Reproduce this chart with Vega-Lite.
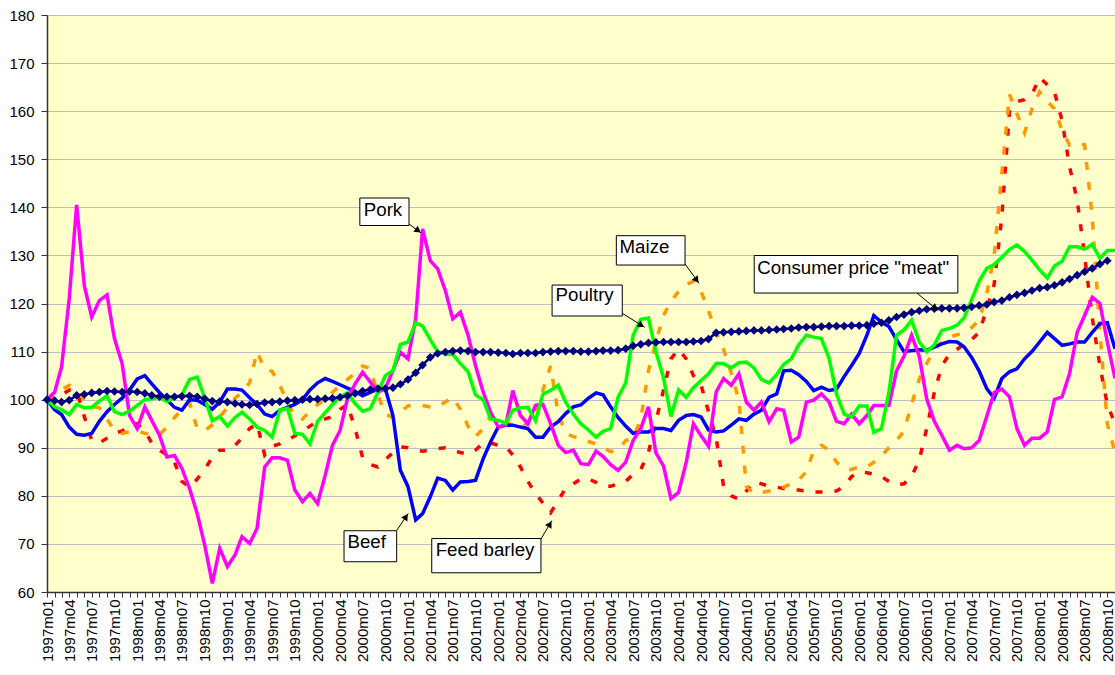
{
  "$schema": "https://vega.github.io/schema/vega-lite/v6.json",
  "width": 1068,
  "height": 577,
  "autosize": {"type": "none"},
  "padding": {"left": 47, "top": 15, "right": 0, "bottom": 83},
  "background": "white",
  "config": {
    "font": "Liberation Sans",
    "view": {"fill": "#FFFFCC", "stroke": "#808080", "strokeWidth": 1},
    "axis": {"labelFont": "Liberation Sans", "labelFontSize": 15, "labelColor": "black", "domainColor": "#333333", "tickColor": "#333333", "domainWidth": 1.5, "tickWidth": 1}
  },
  "datasets": {
    "prices": [
      {"m":"1997-01-01","Beef":100,"Pork":100,"Poultry":100,"Maize":100,"Barley":100,"Consumer":100},
      {"m":"1997-02-01","Beef":97.9,"Pork":101.6,"Poultry":98.5,"Maize":101,"Barley":100.5,"Consumer":99.8},
      {"m":"1997-03-01","Beef":96.9,"Pork":106.8,"Poultry":97.9,"Maize":102,"Barley":101,"Consumer":99.5},
      {"m":"1997-04-01","Beef":94.3,"Pork":121,"Poultry":96.9,"Maize":103,"Barley":102,"Consumer":99.9},
      {"m":"1997-05-01","Beef":92.8,"Pork":140.5,"Poultry":99,"Maize":102,"Barley":102,"Consumer":100.9},
      {"m":"1997-06-01","Beef":92.6,"Pork":123.7,"Poultry":98.3,"Maize":100,"Barley":96.5,"Consumer":101.1},
      {"m":"1997-07-01","Beef":93,"Pork":117.2,"Poultry":98.4,"Maize":98.5,"Barley":91.5,"Consumer":101.4},
      {"m":"1997-08-01","Beef":95.5,"Pork":120.6,"Poultry":99.7,"Maize":98.3,"Barley":91,"Consumer":101.6},
      {"m":"1997-09-01","Beef":97.5,"Pork":121.8,"Poultry":100.8,"Maize":96,"Barley":92,"Consumer":101.8},
      {"m":"1997-10-01","Beef":99,"Pork":112.7,"Poultry":97.5,"Maize":93.5,"Barley":93,"Consumer":101.7},
      {"m":"1997-11-01","Beef":100.3,"Pork":107.5,"Poultry":96.9,"Maize":93,"Barley":93.5,"Consumer":101.6},
      {"m":"1997-12-01","Beef":102,"Pork":96.7,"Poultry":97.6,"Maize":93.3,"Barley":94.5,"Consumer":101.7},
      {"m":"1998-01-01","Beef":104.3,"Pork":94,"Poultry":98.8,"Maize":93.5,"Barley":95,"Consumer":101.6},
      {"m":"1998-02-01","Beef":105,"Pork":98.5,"Poultry":100,"Maize":93,"Barley":93.5,"Consumer":101.3},
      {"m":"1998-03-01","Beef":103.3,"Pork":95.7,"Poultry":100.2,"Maize":92.8,"Barley":91,"Consumer":100.9},
      {"m":"1998-04-01","Beef":101.5,"Pork":92.6,"Poultry":100.5,"Maize":92.7,"Barley":89.5,"Consumer":100.6},
      {"m":"1998-05-01","Beef":100,"Pork":88.1,"Poultry":99.6,"Maize":94.3,"Barley":88.5,"Consumer":100.6},
      {"m":"1998-06-01","Beef":98.4,"Pork":88.4,"Poultry":100.4,"Maize":96.3,"Barley":87,"Consumer":100.6},
      {"m":"1998-07-01","Beef":97.8,"Pork":85.7,"Poultry":101,"Maize":98,"Barley":83,"Consumer":100.7},
      {"m":"1998-08-01","Beef":100,"Pork":81.5,"Poultry":104.2,"Maize":99.3,"Barley":81.8,"Consumer":100.8},
      {"m":"1998-09-01","Beef":99.9,"Pork":76.3,"Poultry":104.7,"Maize":94,"Barley":83.5,"Consumer":100.6},
      {"m":"1998-10-01","Beef":99,"Pork":69.8,"Poultry":100.4,"Maize":93.5,"Barley":85.5,"Consumer":100.2},
      {"m":"1998-11-01","Beef":98,"Pork":61.8,"Poultry":95.6,"Maize":94.8,"Barley":88,"Consumer":99.7},
      {"m":"1998-12-01","Beef":99.5,"Pork":69.1,"Poultry":96.5,"Maize":96.4,"Barley":89.5,"Consumer":99.6},
      {"m":"1999-01-01","Beef":102.2,"Pork":65.3,"Poultry":94.5,"Maize":98.3,"Barley":89.5,"Consumer":99.5},
      {"m":"1999-02-01","Beef":102.2,"Pork":67.7,"Poultry":96.3,"Maize":100.3,"Barley":90.5,"Consumer":99.2},
      {"m":"1999-03-01","Beef":102,"Pork":71.5,"Poultry":97.4,"Maize":101.5,"Barley":92,"Consumer":99},
      {"m":"1999-04-01","Beef":100.4,"Pork":70.1,"Poultry":96,"Maize":103.5,"Barley":94,"Consumer":98.9},
      {"m":"1999-05-01","Beef":99,"Pork":73.2,"Poultry":94.3,"Maize":110,"Barley":95,"Consumer":99.1},
      {"m":"1999-06-01","Beef":97,"Pork":86,"Poultry":93.6,"Maize":106.3,"Barley":88.5,"Consumer":99.4},
      {"m":"1999-07-01","Beef":96.5,"Pork":87.9,"Poultry":92.2,"Maize":105.9,"Barley":90.3,"Consumer":99.5},
      {"m":"1999-08-01","Beef":97.8,"Pork":87.9,"Poultry":97.8,"Maize":103,"Barley":90.8,"Consumer":99.6},
      {"m":"1999-09-01","Beef":98.4,"Pork":87.4,"Poultry":98.2,"Maize":99.5,"Barley":91.5,"Consumer":99.8},
      {"m":"1999-10-01","Beef":99,"Pork":81.2,"Poultry":93,"Maize":96.5,"Barley":92.5,"Consumer":99.9},
      {"m":"1999-11-01","Beef":100,"Pork":78.8,"Poultry":92.8,"Maize":96,"Barley":93.5,"Consumer":100},
      {"m":"1999-12-01","Beef":102,"Pork":80.5,"Poultry":90.8,"Maize":97.5,"Barley":94.5,"Consumer":100.1},
      {"m":"2000-01-01","Beef":103.5,"Pork":78.4,"Poultry":95.5,"Maize":99,"Barley":95.5,"Consumer":100.1},
      {"m":"2000-02-01","Beef":104.4,"Pork":84.3,"Poultry":97.3,"Maize":100,"Barley":96,"Consumer":100.2},
      {"m":"2000-03-01","Beef":103.8,"Pork":90.5,"Poultry":99,"Maize":101.5,"Barley":96.5,"Consumer":100.3},
      {"m":"2000-04-01","Beef":103.1,"Pork":93.6,"Poultry":100.6,"Maize":103,"Barley":98,"Consumer":100.5},
      {"m":"2000-05-01","Beef":102.4,"Pork":100.2,"Poultry":101.4,"Maize":104.2,"Barley":99,"Consumer":100.8},
      {"m":"2000-06-01","Beef":101.7,"Pork":103.3,"Poultry":99.2,"Maize":105.5,"Barley":94,"Consumer":101.3},
      {"m":"2000-07-01","Beef":100.8,"Pork":105.7,"Poultry":97.6,"Maize":107,"Barley":88,"Consumer":101.8},
      {"m":"2000-08-01","Beef":101.5,"Pork":103.7,"Poultry":98.1,"Maize":106.5,"Barley":86.5,"Consumer":102.1},
      {"m":"2000-09-01","Beef":102.2,"Pork":101.6,"Poultry":101.5,"Maize":101,"Barley":86,"Consumer":102.3},
      {"m":"2000-10-01","Beef":102.3,"Pork":102.3,"Poultry":105,"Maize":97,"Barley":87.5,"Consumer":102.3},
      {"m":"2000-11-01","Beef":96.7,"Pork":106.1,"Poultry":106,"Maize":96.3,"Barley":89,"Consumer":102.5},
      {"m":"2000-12-01","Beef":85.3,"Pork":109.9,"Poultry":111.5,"Maize":97.5,"Barley":90.2,"Consumer":103.2},
      {"m":"2001-01-01","Beef":81.9,"Pork":108.5,"Poultry":112,"Maize":98.7,"Barley":90,"Consumer":104.2},
      {"m":"2001-02-01","Beef":75,"Pork":116.8,"Poultry":116,"Maize":99,"Barley":89.5,"Consumer":105.6},
      {"m":"2001-03-01","Beef":76.3,"Pork":135.5,"Poultry":115.3,"Maize":98.8,"Barley":89.3,"Consumer":107.2},
      {"m":"2001-04-01","Beef":79.8,"Pork":128.9,"Poultry":112.5,"Maize":98.5,"Barley":89.5,"Consumer":108.8},
      {"m":"2001-05-01","Beef":83.7,"Pork":127.2,"Poultry":110,"Maize":98.5,"Barley":89.8,"Consumer":109.6},
      {"m":"2001-06-01","Beef":83.2,"Pork":122.7,"Poultry":109.5,"Maize":99.5,"Barley":90,"Consumer":109.9},
      {"m":"2001-07-01","Beef":81.2,"Pork":116.8,"Poultry":109.4,"Maize":100.5,"Barley":89.5,"Consumer":110.1},
      {"m":"2001-08-01","Beef":82.9,"Pork":118.2,"Poultry":107.5,"Maize":98,"Barley":89,"Consumer":110.2},
      {"m":"2001-09-01","Beef":83,"Pork":113.4,"Poultry":105.8,"Maize":94.5,"Barley":88.7,"Consumer":110.1},
      {"m":"2001-10-01","Beef":83.2,"Pork":107.1,"Poultry":101,"Maize":92.3,"Barley":89.5,"Consumer":109.9},
      {"m":"2001-11-01","Beef":87.7,"Pork":101.6,"Poultry":100,"Maize":94,"Barley":91,"Consumer":109.9},
      {"m":"2001-12-01","Beef":91.2,"Pork":97.4,"Poultry":96,"Maize":96.6,"Barley":91,"Consumer":109.9},
      {"m":"2002-01-01","Beef":94.3,"Pork":94.3,"Poultry":95.7,"Maize":96,"Barley":90.5,"Consumer":109.8},
      {"m":"2002-02-01","Beef":94.7,"Pork":94.7,"Poultry":95.1,"Maize":95.3,"Barley":90.2,"Consumer":109.7},
      {"m":"2002-03-01","Beef":94.7,"Pork":101.9,"Poultry":97.8,"Maize":94.6,"Barley":88.5,"Consumer":109.5},
      {"m":"2002-04-01","Beef":94.3,"Pork":96.7,"Poultry":98.3,"Maize":94.3,"Barley":86,"Consumer":109.7},
      {"m":"2002-05-01","Beef":94,"Pork":95,"Poultry":98.4,"Maize":95,"Barley":83,"Consumer":109.7},
      {"m":"2002-06-01","Beef":92.2,"Pork":98.8,"Poultry":95.6,"Maize":97.3,"Barley":80.5,"Consumer":109.7},
      {"m":"2002-07-01","Beef":92.2,"Pork":99,"Poultry":101.2,"Maize":102,"Barley":78.5,"Consumer":109.9},
      {"m":"2002-08-01","Beef":94.3,"Pork":95,"Poultry":101.9,"Maize":107,"Barley":76.5,"Consumer":110},
      {"m":"2002-09-01","Beef":95.4,"Pork":90.5,"Poultry":103,"Maize":97,"Barley":79,"Consumer":110.1},
      {"m":"2002-10-01","Beef":97.1,"Pork":89,"Poultry":99.5,"Maize":93,"Barley":81.6,"Consumer":110.1},
      {"m":"2002-11-01","Beef":98.5,"Pork":89.5,"Poultry":97,"Maize":92.3,"Barley":82.5,"Consumer":110.1},
      {"m":"2002-12-01","Beef":98.9,"Pork":86.7,"Poultry":95,"Maize":92,"Barley":83.5,"Consumer":110},
      {"m":"2003-01-01","Beef":100.3,"Pork":86.5,"Poultry":93.7,"Maize":91.3,"Barley":83.5,"Consumer":110},
      {"m":"2003-02-01","Beef":101.4,"Pork":89.3,"Poultry":92.2,"Maize":90.8,"Barley":82.8,"Consumer":110.1},
      {"m":"2003-03-01","Beef":101,"Pork":88.2,"Poultry":93.4,"Maize":90,"Barley":82,"Consumer":110.2},
      {"m":"2003-04-01","Beef":98.5,"Pork":86.5,"Poultry":94,"Maize":89.2,"Barley":82,"Consumer":110.2},
      {"m":"2003-05-01","Beef":96.3,"Pork":85.3,"Poultry":100.5,"Maize":89.5,"Barley":82.5,"Consumer":110.3},
      {"m":"2003-06-01","Beef":94.5,"Pork":87,"Poultry":103.5,"Maize":91.5,"Barley":83,"Consumer":110.6},
      {"m":"2003-07-01","Beef":93,"Pork":91.5,"Poultry":113.4,"Maize":92,"Barley":84.5,"Consumer":111.2},
      {"m":"2003-08-01","Beef":93.3,"Pork":94,"Poultry":116.7,"Maize":96,"Barley":85.5,"Consumer":111.5},
      {"m":"2003-09-01","Beef":93.3,"Pork":98.5,"Poultry":117,"Maize":106,"Barley":89,"Consumer":111.8},
      {"m":"2003-10-01","Beef":94,"Pork":89,"Poultry":110,"Maize":112,"Barley":95.5,"Consumer":111.9},
      {"m":"2003-11-01","Beef":94,"Pork":86.2,"Poultry":104.5,"Maize":117.5,"Barley":102,"Consumer":112},
      {"m":"2003-12-01","Beef":93.6,"Pork":79.4,"Poultry":96.5,"Maize":120.5,"Barley":108.5,"Consumer":112},
      {"m":"2004-01-01","Beef":95.7,"Pork":80.7,"Poultry":102,"Maize":122.5,"Barley":110.5,"Consumer":112},
      {"m":"2004-02-01","Beef":96.7,"Pork":87,"Poultry":100.5,"Maize":124,"Barley":108.5,"Consumer":112},
      {"m":"2004-03-01","Beef":96.9,"Pork":95,"Poultry":102.5,"Maize":124.6,"Barley":105,"Consumer":112.1},
      {"m":"2004-04-01","Beef":96.4,"Pork":92.5,"Poultry":104,"Maize":122.5,"Barley":103,"Consumer":112.2},
      {"m":"2004-05-01","Beef":93.7,"Pork":90.3,"Poultry":105.4,"Maize":118.5,"Barley":97.5,"Consumer":112.6},
      {"m":"2004-06-01","Beef":93.3,"Pork":101.6,"Poultry":107.5,"Maize":114,"Barley":92,"Consumer":113.9},
      {"m":"2004-07-01","Beef":93.5,"Pork":104.4,"Poultry":107.5,"Maize":110.5,"Barley":82,"Consumer":114},
      {"m":"2004-08-01","Beef":94.7,"Pork":103,"Poultry":106.6,"Maize":105.5,"Barley":80,"Consumer":114.1},
      {"m":"2004-09-01","Beef":96,"Pork":105.4,"Poultry":107.7,"Maize":100,"Barley":79.3,"Consumer":114.2},
      {"m":"2004-10-01","Beef":95.7,"Pork":99.5,"Poultry":107.8,"Maize":82,"Barley":81,"Consumer":114.3},
      {"m":"2004-11-01","Beef":97,"Pork":97.8,"Poultry":106.6,"Maize":80.5,"Barley":83,"Consumer":114.4},
      {"m":"2004-12-01","Beef":97.8,"Pork":99.5,"Poultry":104.2,"Maize":80.7,"Barley":82.5,"Consumer":114.4},
      {"m":"2005-01-01","Beef":100.5,"Pork":95.4,"Poultry":103.5,"Maize":81,"Barley":82,"Consumer":114.5},
      {"m":"2005-02-01","Beef":101.2,"Pork":98.1,"Poultry":105.2,"Maize":81.4,"Barley":81.8,"Consumer":114.6},
      {"m":"2005-03-01","Beef":106,"Pork":97.8,"Poultry":107.3,"Maize":81.8,"Barley":81.5,"Consumer":114.7},
      {"m":"2005-04-01","Beef":106.1,"Pork":91.2,"Poultry":108.5,"Maize":82.5,"Barley":81.3,"Consumer":114.8},
      {"m":"2005-05-01","Beef":105.2,"Pork":92.2,"Poultry":111.4,"Maize":83.3,"Barley":81.2,"Consumer":115},
      {"m":"2005-06-01","Beef":103.8,"Pork":99.5,"Poultry":113.4,"Maize":85,"Barley":81,"Consumer":115.1},
      {"m":"2005-07-01","Beef":101.9,"Pork":99.9,"Poultry":113,"Maize":89.5,"Barley":80.8,"Consumer":115.1},
      {"m":"2005-08-01","Beef":102.6,"Pork":101.2,"Poultry":112.7,"Maize":90.5,"Barley":80.8,"Consumer":115.2},
      {"m":"2005-09-01","Beef":101.9,"Pork":99.5,"Poultry":108.6,"Maize":89.5,"Barley":81,"Consumer":115.3},
      {"m":"2005-10-01","Beef":102.2,"Pork":95.5,"Poultry":101.2,"Maize":87,"Barley":81,"Consumer":115.3},
      {"m":"2005-11-01","Beef":104.8,"Pork":95,"Poultry":97,"Maize":85.5,"Barley":82,"Consumer":115.3},
      {"m":"2005-12-01","Beef":107.1,"Pork":97,"Poultry":96.4,"Maize":85.5,"Barley":84,"Consumer":115.4},
      {"m":"2006-01-01","Beef":109.6,"Pork":95,"Poultry":98.7,"Maize":86,"Barley":85,"Consumer":115.4},
      {"m":"2006-02-01","Beef":113.4,"Pork":96.7,"Poultry":98.7,"Maize":86,"Barley":84.8,"Consumer":115.5},
      {"m":"2006-03-01","Beef":117.5,"Pork":98.8,"Poultry":93.2,"Maize":87,"Barley":84.5,"Consumer":115.8},
      {"m":"2006-04-01","Beef":116.1,"Pork":98.8,"Poultry":94,"Maize":88.3,"Barley":84,"Consumer":116},
      {"m":"2006-05-01","Beef":115.2,"Pork":98.8,"Poultry":101.5,"Maize":90,"Barley":83,"Consumer":116.5},
      {"m":"2006-06-01","Beef":112.5,"Pork":106,"Poultry":113.4,"Maize":91.5,"Barley":82.3,"Consumer":117.2},
      {"m":"2006-07-01","Beef":110,"Pork":109,"Poultry":114.5,"Maize":93.5,"Barley":82.5,"Consumer":117.7},
      {"m":"2006-08-01","Beef":110.2,"Pork":113.4,"Poultry":116.5,"Maize":99,"Barley":84,"Consumer":118.2},
      {"m":"2006-09-01","Beef":110.4,"Pork":109,"Poultry":112,"Maize":104.3,"Barley":87.5,"Consumer":118.5},
      {"m":"2006-10-01","Beef":110.3,"Pork":100.2,"Poultry":110,"Maize":107.5,"Barley":94,"Consumer":118.8},
      {"m":"2006-11-01","Beef":110.9,"Pork":95.5,"Poultry":111.4,"Maize":110.5,"Barley":101.5,"Consumer":118.9},
      {"m":"2006-12-01","Beef":111.6,"Pork":92.6,"Poultry":114.4,"Maize":112,"Barley":107,"Consumer":119},
      {"m":"2007-01-01","Beef":112.1,"Pork":89.5,"Poultry":114.8,"Maize":113,"Barley":109.5,"Consumer":119},
      {"m":"2007-02-01","Beef":112,"Pork":90.5,"Poultry":115.5,"Maize":113.5,"Barley":110.5,"Consumer":119},
      {"m":"2007-03-01","Beef":111,"Pork":89.8,"Poultry":117,"Maize":114,"Barley":111.5,"Consumer":119.1},
      {"m":"2007-04-01","Beef":108.8,"Pork":90,"Poultry":120.8,"Maize":115,"Barley":112.5,"Consumer":119.3},
      {"m":"2007-05-01","Beef":106,"Pork":91.5,"Poultry":124.6,"Maize":116.5,"Barley":114,"Consumer":119.6},
      {"m":"2007-06-01","Beef":102.3,"Pork":96.5,"Poultry":127.3,"Maize":122,"Barley":118.8,"Consumer":119.8},
      {"m":"2007-07-01","Beef":100.3,"Pork":101.5,"Poultry":128.1,"Maize":130,"Barley":124,"Consumer":120.3},
      {"m":"2007-08-01","Beef":104.4,"Pork":102.2,"Poultry":129.6,"Maize":147,"Barley":138,"Consumer":120.6},
      {"m":"2007-09-01","Beef":105.8,"Pork":100.6,"Poultry":131.2,"Maize":163.5,"Barley":160,"Consumer":121.3},
      {"m":"2007-10-01","Beef":106.4,"Pork":94,"Poultry":132.2,"Maize":159.5,"Barley":162,"Consumer":121.8},
      {"m":"2007-11-01","Beef":108.5,"Pork":90.5,"Poultry":130.8,"Maize":155.5,"Barley":162.4,"Consumer":122.2},
      {"m":"2007-12-01","Beef":110,"Pork":92,"Poultry":129,"Maize":160.5,"Barley":163.5,"Consumer":122.7},
      {"m":"2008-01-01","Beef":112,"Pork":92,"Poultry":127,"Maize":164,"Barley":167,"Consumer":123.2},
      {"m":"2008-02-01","Beef":114,"Pork":93.3,"Poultry":125.3,"Maize":162,"Barley":165.5,"Consumer":123.4},
      {"m":"2008-03-01","Beef":112.7,"Pork":100,"Poultry":127.8,"Maize":160.5,"Barley":164,"Consumer":123.8},
      {"m":"2008-04-01","Beef":111.3,"Pork":100.6,"Poultry":128.8,"Maize":156,"Barley":158,"Consumer":124.4},
      {"m":"2008-05-01","Beef":111.6,"Pork":105.4,"Poultry":131.8,"Maize":153,"Barley":148.5,"Consumer":125.1},
      {"m":"2008-06-01","Beef":112,"Pork":114,"Poultry":131.8,"Maize":153.5,"Barley":141.5,"Consumer":125.9},
      {"m":"2008-07-01","Beef":112,"Pork":117.5,"Poultry":131.3,"Maize":153,"Barley":130,"Consumer":126.6},
      {"m":"2008-08-01","Beef":114,"Pork":121.3,"Poultry":132.3,"Maize":138,"Barley":117,"Consumer":127.3},
      {"m":"2008-09-01","Beef":115.8,"Pork":120,"Poultry":129.4,"Maize":114,"Barley":107,"Consumer":128.2},
      {"m":"2008-10-01","Beef":116,"Pork":112,"Poultry":131,"Maize":95,"Barley":99,"Consumer":128.9},
      {"m":"2008-11-01","Beef":110.6,"Pork":104.4,"Poultry":131,"Maize":89,"Barley":95,"Consumer":null}
    ],
    "notes": [
      {"label":"Pork","bx1":"2000-06-20","bx2":"2001-01-05","by1":141.94,"by2":136.22,"tx":"2000-07-06","ty":139.38,"ax1":"2001-01-05","ay1":136.53,"ax2":"2001-02-23","ay2":134.66,"hx":"2001-02-11","hy":135.15,"hd":125.8},
      {"label":"Beef","bx1":"2000-04-17","bx2":"2000-11-16","by1":72.74,"by2":66.29,"tx":"2000-05-01","ty":70.49,"ax1":"2000-11-16","ay1":72.78,"ax2":"2001-01-02","ay2":76.36,"hx":"2000-12-24","hy":75.67,"hd":34},
      {"label":"Feed barley","bx1":"2001-04-07","bx2":"2002-06-23","by1":71.12,"by2":64.0,"tx":"2001-04-23","ty":68.8,"ax1":"2002-06-23","ay1":71.01,"ax2":"2002-08-06","ay2":74.86,"hx":"2002-07-29","hy":74.13,"hd":30},
      {"label":"Maize","bx1":"2003-04-24","bx2":"2004-01-27","by1":134.1,"by2":128.0,"tx":"2003-05-07","ty":131.81,"ax1":"2004-01-27","ay1":128.21,"ax2":"2004-03-24","ay2":124.2,"hx":"2004-03-14","hy":124.86,"hd":143.5},
      {"label":"Poultry","bx1":"2002-08-07","bx2":"2003-05-18","by1":123.84,"by2":117.4,"tx":"2002-08-21","ty":121.76,"ax1":"2003-05-18","ay1":117.96,"ax2":"2003-08-17","ay2":115.05,"hx":"2003-08-03","hy":115.48,"hd":122},
      {"label":"Consumer price \"meat\"","bx1":"2004-11-02","bx2":"2007-02-04","by1":129.98,"by2":122.18,"tx":"2004-11-14","ty":127.48,"ax1":"2006-08-21","ay1":122.24,"ax2":"2006-11-17","ay2":118.5,"hx":"2006-11-04","hy":119.04,"hd":129.8}
    ]
  },
  "layer": [
    {
      "data": {"name": "prices"},
      "mark": {"type": "line", "color": "#FF0000", "strokeWidth": 3.5, "strokeDash": [7, 12], "strokeCap": "butt"},
      "encoding": {
        "x": {"field": "m", "type": "temporal", "title": null,
          "scale": {"type": "utc", "domain": [{"year": 1997, "month": 1, "date": 1, "utc": true}, {"year": 2008, "month": 11, "date": 1, "utc": true}]},
          "axis": {"title": null, "grid": false, "tickCount": {"interval": "month", "step": 1},
            "labelExpr": "utcmonth(datum.value) % 3 == 0 ? utcFormat(datum.value, '%Ym%m') : ''",
            "labelAngle": -90, "labelPadding": 2, "tickSize": 5, "labelOverlap": false, "labelFlush": false, "labelBound": false}},
        "y": {"field": "Barley", "type": "quantitative", "title": null,
          "scale": {"domain": [60, 180], "nice": false, "zero": false},
          "axis": {"title": null, "values": [60, 70, 80, 90, 100, 110, 120, 130, 140, 150, 160, 170, 180],
            "grid": true, "gridColor": "#BFBFBF", "gridWidth": 1, "tickSize": 6, "labelPadding": 7}}
      }
    },
    {
      "data": {"name": "prices"},
      "mark": {"type": "line", "color": "#FF9900", "strokeWidth": 3.5, "strokeDash": [8, 12], "strokeCap": "butt"},
      "encoding": {
        "x": {"field": "m", "type": "temporal", "scale": {"type": "utc"}, "title": null},
        "y": {"field": "Maize", "type": "quantitative", "title": null}
      }
    },
    {
      "data": {"name": "prices"},
      "mark": {"type": "line", "color": "#0000FF", "strokeWidth": 3.5},
      "encoding": {
        "x": {"field": "m", "type": "temporal", "scale": {"type": "utc"}, "title": null},
        "y": {"field": "Beef", "type": "quantitative", "title": null}
      }
    },
    {
      "data": {"name": "prices"},
      "mark": {"type": "line", "color": "#FF00FF", "strokeWidth": 3.5},
      "encoding": {
        "x": {"field": "m", "type": "temporal", "scale": {"type": "utc"}, "title": null},
        "y": {"field": "Pork", "type": "quantitative", "title": null}
      }
    },
    {
      "data": {"name": "prices"},
      "mark": {"type": "line", "color": "#00FF00", "strokeWidth": 3.5},
      "encoding": {
        "x": {"field": "m", "type": "temporal", "scale": {"type": "utc"}, "title": null},
        "y": {"field": "Poultry", "type": "quantitative", "title": null}
      }
    },
    {
      "data": {"name": "prices"},
      "mark": {"type": "line", "color": "#000080", "strokeWidth": 2.5,
        "point": {"shape": "diamond", "size": 75, "filled": true, "color": "#000080", "opacity": 1}},
      "encoding": {
        "x": {"field": "m", "type": "temporal", "scale": {"type": "utc"}, "title": null},
        "y": {"field": "Consumer", "type": "quantitative", "title": null}
      }
    },
    {
      "data": {"name": "notes"},
      "mark": {"type": "rule", "color": "black", "strokeWidth": 1},
      "encoding": {
        "x": {"field": "ax1", "type": "temporal", "scale": {"type": "utc"}, "title": null},
        "x2": {"field": "ax2"},
        "y": {"field": "ay1", "type": "quantitative", "title": null},
        "y2": {"field": "ay2"}
      }
    },
    {
      "data": {"name": "notes"},
      "mark": {"type": "point", "shape": "triangle-up", "filled": true, "color": "black", "size": 55, "opacity": 1},
      "encoding": {
        "x": {"field": "hx", "type": "temporal", "scale": {"type": "utc"}, "title": null},
        "y": {"field": "hy", "type": "quantitative", "title": null},
        "angle": {"field": "hd", "type": "quantitative", "scale": null}
      }
    },
    {
      "data": {"name": "notes"},
      "mark": {"type": "rect", "fill": "white", "stroke": "black", "strokeWidth": 1},
      "encoding": {
        "x": {"field": "bx1", "type": "temporal", "scale": {"type": "utc"}, "title": null},
        "x2": {"field": "bx2"},
        "y": {"field": "by1", "type": "quantitative", "title": null},
        "y2": {"field": "by2"}
      }
    },
    {
      "data": {"name": "notes"},
      "mark": {"type": "text", "align": "left", "baseline": "middle", "fontSize": 18.7, "font": "Liberation Sans", "color": "black"},
      "encoding": {
        "x": {"field": "tx", "type": "temporal", "scale": {"type": "utc"}, "title": null},
        "y": {"field": "ty", "type": "quantitative", "title": null},
        "text": {"field": "label", "type": "nominal"}
      }
    }
  ]
}
